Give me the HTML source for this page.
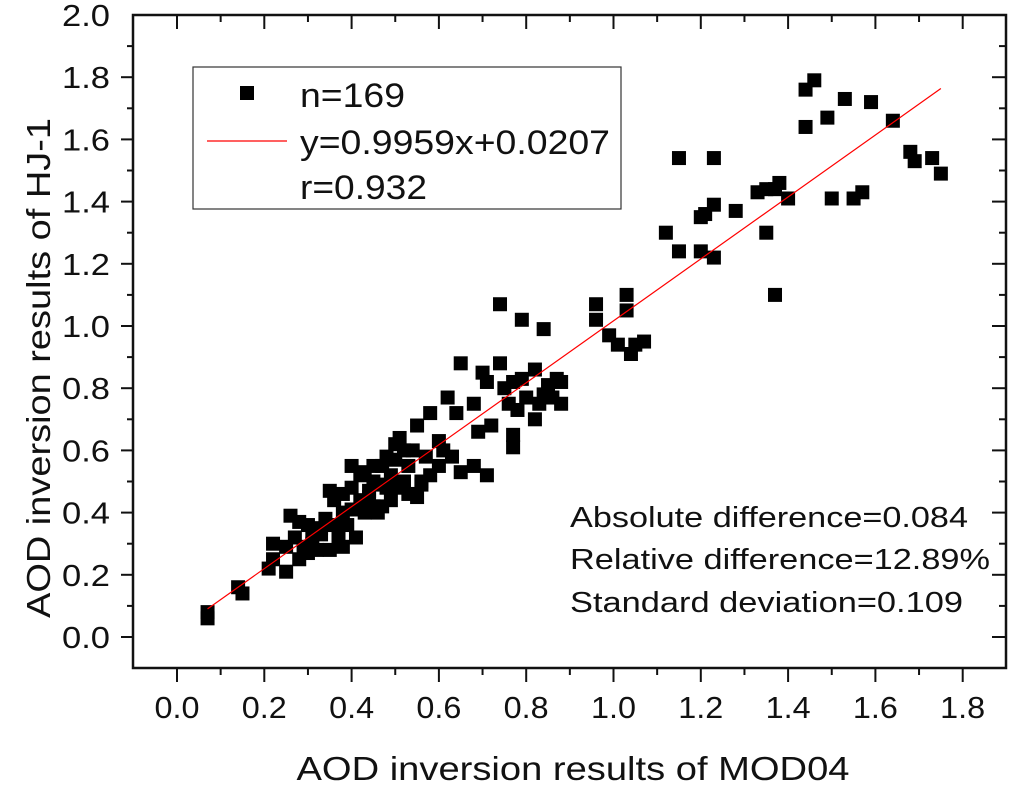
<!DOCTYPE html>
<html><head><meta charset="utf-8"><style>
body{margin:0;background:#fff}
svg text{font-family:"Liberation Sans",Arial,sans-serif;fill:#111}
</style></head><body>
<svg id="chart" width="1024" height="788" viewBox="0 0 1024 788">
<g id="axes"></g><g id="pts"></g><g id="ov"></g>
</svg>
<script>
const xTickLabels=["0.0","0.2","0.4","0.6","0.8","1.0","1.2","1.4","1.6","1.8"];
const yTickLabels=["0.0","0.2","0.4","0.6","0.8","1.0","1.2","1.4","1.6","1.8","2.0"];
const xVals=[1.44,1.46,1.49,1.53,1.59,1.44,1.64,1.68,1.69,1.73,1.75,1.50,1.55,1.57,1.37,
1.15,1.23,1.12,1.15,1.20,1.21,1.23,1.20,1.23,1.28,1.33,1.35,1.37,1.38,1.40,1.35,
0.96,0.96,1.03,1.03,0.99,1.01,1.04,1.05,1.07,0.74,0.79,0.84,
0.65,0.70,0.71,0.74,0.75,0.77,0.79,0.82,0.84,0.85,0.88,0.87,0.76,0.78,0.80,0.83,0.86,0.88,0.82,0.77,0.77,0.68,0.69,0.72,0.68,0.71,0.62,0.58,0.55,0.60,0.64,0.63,0.60,0.58,0.56,0.55,0.50,0.51,0.52,0.48,0.47,0.53,0.52,0.50,0.49,0.47,0.44,0.45,0.42,0.40,0.40,0.38,0.36,0.35,0.43,0.45,0.46,0.43,0.40,0.38,0.36,0.34,0.33,0.31,0.30,0.28,0.26,0.27,0.29,0.32,0.35,0.38,0.41,0.37,0.25,0.22,0.21,0.22,0.25,0.28,0.14,0.15,0.07,0.07,0.45,0.50,0.54,0.57,0.61,0.65,0.49,0.42,0.44,0.33,0.31,0.30,0.39,0.46,0.53,0.56,0.48,0.37];
const yVals=[1.76,1.79,1.67,1.73,1.72,1.64,1.66,1.56,1.53,1.54,1.49,1.41,1.41,1.43,1.10,
1.54,1.54,1.30,1.24,1.35,1.36,1.39,1.24,1.22,1.37,1.43,1.44,1.44,1.46,1.41,1.30,
1.07,1.02,1.10,1.05,0.97,0.94,0.91,0.94,0.95,1.07,1.02,0.99,
0.88,0.85,0.82,0.88,0.80,0.82,0.83,0.86,0.78,0.81,0.82,0.83,0.75,0.73,0.77,0.75,0.77,0.75,0.70,0.61,0.65,0.75,0.66,0.68,0.55,0.52,0.77,0.72,0.68,0.63,0.72,0.58,0.55,0.52,0.50,0.45,0.62,0.64,0.60,0.58,0.55,0.55,0.50,0.48,0.44,0.42,0.45,0.50,0.52,0.55,0.48,0.46,0.44,0.47,0.53,0.55,0.49,0.40,0.41,0.40,0.36,0.38,0.35,0.33,0.36,0.37,0.39,0.32,0.29,0.28,0.28,0.29,0.32,0.32,0.29,0.30,0.22,0.25,0.21,0.25,0.16,0.14,0.08,0.06,0.42,0.57,0.60,0.58,0.60,0.53,0.52,0.44,0.47,0.33,0.30,0.27,0.36,0.40,0.46,0.49,0.48,0.35];
const fitSlope=0.9959, fitIntercept=0.0207, fitRange=[0.07,1.75];

const NS="http://www.w3.org/2000/svg";
const L=133,R=1006,T=15,B=668;
const X=v=>177+v*436.5, Y=v=>637-v*311;
function mk(tag,attrs,parent){const e=document.createElementNS(NS,tag);for(const k in attrs)e.setAttribute(k,attrs[k]);parent.appendChild(e);return e;}
const ax=document.getElementById('axes'),pts=document.getElementById('pts'),ov=document.getElementById('ov');
const frame=mk('rect',{x:L,y:T,width:R-L,height:B-T,fill:'none',stroke:'#111','stroke-width':2.5},ax);


for(let i=-1;i<=19;i++){const v=i*0.1,x=X(v);if(x<L+1||x>R-1)continue;const maj=i%2===0;
 mk('line',{x1:x,y1:B,x2:x,y2:B+(maj?14:7),stroke:'#111','stroke-width':2},ax);
 mk('line',{x1:x,y1:T,x2:x,y2:T+(maj?14:7),stroke:'#111','stroke-width':2},ax);}
xTickLabels.forEach((s,i)=>{const t=mk('text',{x:X(i*0.2),y:718,'font-size':31,'text-anchor':'middle',textLength:45,lengthAdjust:'spacingAndGlyphs'},ax);t.textContent=s;
 
 });
for(let i=-1;i<=20;i++){const v=i*0.1,y=Y(v);if(y<T+1||y>B-1)continue;const maj=i%2===0;
 mk('line',{x1:L,y1:y,x2:L-(maj?12:6),y2:y,stroke:'#111','stroke-width':2},ax);
 mk('line',{x1:R,y1:y,x2:R-(maj?14:7),y2:y,stroke:'#111','stroke-width':2},ax);}
yTickLabels.forEach((s,i)=>{const t=mk('text',{x:110,y:Y(i*0.2)+11,'font-size':31,'text-anchor':'end',textLength:48,lengthAdjust:'spacingAndGlyphs'},ax);t.textContent=s;
 
 });
const xl=mk('text',{x:573,y:780,'font-size':33,'text-anchor':'middle',textLength:553,lengthAdjust:'spacingAndGlyphs'},ax);xl.textContent='AOD inversion results of MOD04';


const yl=mk('text',{x:0,y:0,'font-size':33,'text-anchor':'middle',textLength:500,lengthAdjust:'spacingAndGlyphs',transform:'translate(50,368) rotate(-90)'},ax);yl.textContent='AOD inversion results of HJ-1';


xVals.forEach((xv,i)=>{const r=mk('rect',{x:X(xv)-7,y:Y(yVals[i])-7,width:14,height:14,fill:'#000'},pts);
 
 });
const fl=mk('line',{x1:X(fitRange[0]),y1:Y(fitSlope*fitRange[0]+fitIntercept),x2:X(fitRange[1]),y2:Y(fitSlope*fitRange[1]+fitIntercept),stroke:'#f00','stroke-width':1.2},ov);


const lg=mk('g',{},ov);


mk('rect',{x:193,y:67,width:428,height:142,fill:'#fff',stroke:'#333','stroke-width':1.2},lg);
mk('rect',{x:240,y:86,width:14,height:14,fill:'#000'},lg);
mk('line',{x1:207,y1:141,x2:287,y2:141,stroke:'#f00','stroke-width':1.2},lg);
[['n=169',107,105],['y=0.9959x+0.0207',154,310],['r=0.932',199,127]].forEach(([s,y,w])=>{const t=mk('text',{x:300,y:y,'font-size':34,textLength:w,lengthAdjust:'spacingAndGlyphs'},lg);t.textContent=s;
 
 });
[['Absolute difference=0.084',527,398],['Relative difference=12.89%',569,420],['Standard deviation=0.109',612,393]].forEach(([s,y,w])=>{const t=mk('text',{x:570,y:y,'font-size':29,textLength:w,lengthAdjust:'spacingAndGlyphs'},ov);t.textContent=s;
 
 });
</script>
</body></html>
